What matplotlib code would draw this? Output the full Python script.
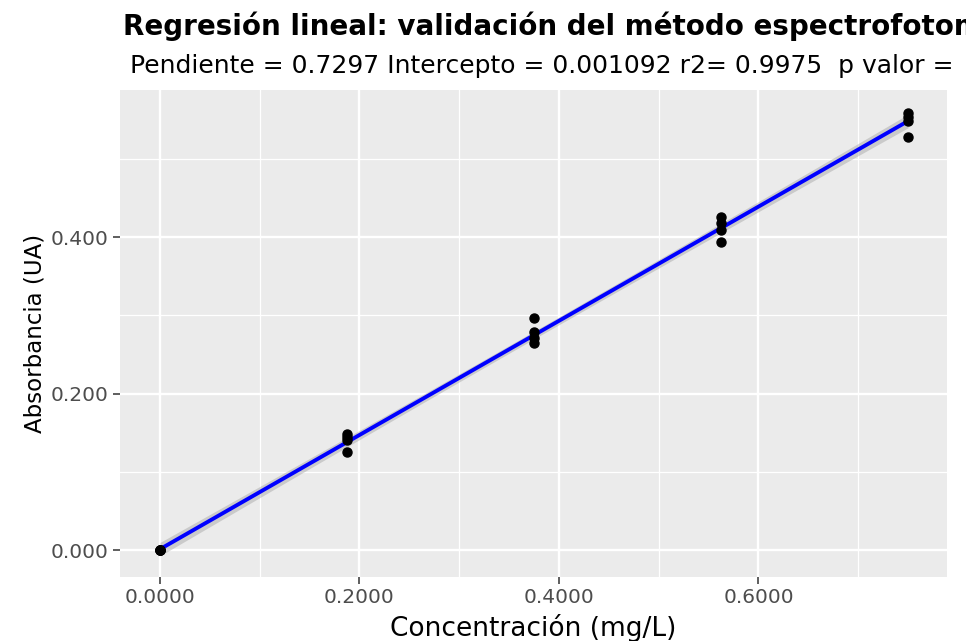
import numpy as np
import matplotlib
matplotlib.use("Agg")
import matplotlib.pyplot as plt
from matplotlib.ticker import FixedLocator, FuncFormatter

# Calibration data: concentration levels (mg/L) and absorbance replicates (UA)
concentracion = [0.0, 0.1875, 0.375, 0.5625, 0.75]
abs_rep1 = [0.0, 0.148, 0.296, 0.426, 0.558]
abs_rep2 = [0.0, 0.144, 0.279, 0.418, 0.554]
abs_rep3 = [0.0, 0.140, 0.271, 0.409, 0.549]
abs_rep4 = [0.0, 0.125, 0.265, 0.394, 0.528]

# Reported regression statistics
pendiente = 0.7297
intercepto = 0.001092
r2 = 0.9975

x_major = [0.0, 0.2, 0.4, 0.6]
x_minor = [0.1, 0.3, 0.5, 0.7]
y_major = [0.0, 0.2, 0.4]
y_minor = [0.1, 0.3, 0.5]

titulo = "Regresión lineal: validación del método espectrofotométrico"
subtitulo = (f"Pendiente = {pendiente} Intercepto = {intercepto} "
             f"r2= {r2}  p valor =")

# Long-format arrays
x = np.tile(np.array(concentracion), 4)
y = np.concatenate([abs_rep1, abs_rep2, abs_rep3, abs_rep4])

# 95% confidence band for the fitted line
n = len(x)
resid = y - (intercepto + pendiente * x)
s = np.sqrt(np.sum(resid ** 2) / (n - 2))
t_crit = 2.101  # t(0.975, df = 18)
xg = np.linspace(min(concentracion), max(concentracion), 80)
yg = intercepto + pendiente * xg
se = s * np.sqrt(1.0 / n + (xg - x.mean()) ** 2 / np.sum((x - x.mean()) ** 2))

W, H = 966, 641
fig = plt.figure(figsize=(W / 100, H / 100), dpi=100)
plt.rcParams["font.family"] = ["DejaVu Sans"]
ax = fig.add_axes([120 / W, 1 - 577 / H, 827 / W, 487 / H])
ax.set_facecolor("#EBEBEB")

ax.set_xlim(-0.0401, 0.789)
ax.set_ylim(-0.0345, 0.588)

# grid
for v in x_minor:
    ax.axvline(v, color="white", lw=0.9, zorder=0.5)
for v in x_major:
    ax.axvline(v, color="white", lw=1.7, zorder=0.6)
for v in y_minor:
    ax.axhline(v, color="white", lw=0.9, zorder=0.5)
for v in y_major:
    ax.axhline(v, color="white", lw=1.7, zorder=0.6)

ax.fill_between(xg, yg - t_crit * se, yg + t_crit * se,
                color="#999999", alpha=0.4, lw=0, zorder=1)
ax.plot(xg, yg, color="#0000FF", lw=2.8, zorder=2, solid_capstyle="round")
ax.plot(x, y, "o", color="black", ms=6.5, zorder=3)

for sp in ax.spines.values():
    sp.set_visible(False)

ax.xaxis.set_major_locator(FixedLocator(x_major))
ax.yaxis.set_major_locator(FixedLocator(y_major))
ax.xaxis.set_major_formatter(FuncFormatter(lambda v, p: f"{v:.4f}"))
ax.yaxis.set_major_formatter(FuncFormatter(lambda v, p: f"{v:.3f}"))
ax.tick_params(axis="both", length=5, width=1.1, color="#333333",
               labelcolor="#4D4D4D", labelsize=14.5, pad=3)

ax.set_xlabel("Concentración (mg/L)", fontsize=19, color="black", labelpad=5)
ax.set_ylabel("Absorbancia (UA)", fontsize=16.5, color="black", labelpad=3)

fig.text(123 / W, 1 - 35 / H, titulo, ha="left", va="baseline",
         fontsize=20, fontweight="bold", color="black")
fig.text(130 / W, 1 - 73 / H, subtitulo, ha="left", va="baseline",
         fontsize=18, color="black")

fig.savefig("out.png", dpi=100, facecolor="white")
